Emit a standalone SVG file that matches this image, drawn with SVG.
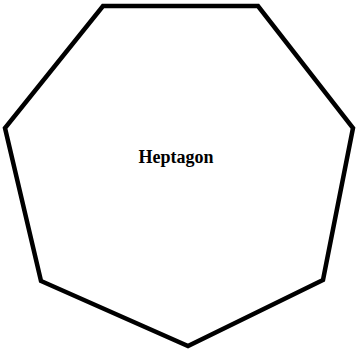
<svg xmlns="http://www.w3.org/2000/svg" width="358" height="353" viewBox="0 0 358 353">
<style>
.shape{fill:#fff;stroke:#000;stroke-width:4.5;stroke-linejoin:miter}
.label{font-family:"Liberation Serif",serif;font-weight:bold;font-size:18px;fill:#000;text-anchor:middle}
</style>
<rect width="358" height="353" fill="#fff"/>
<g id="heptagon">
<polygon class="shape" points="103,6 258,6 353,128 323,280 188,346 41,281 5,128"/>
<text class="label" x="176" y="163">Heptagon</text>
</g>
<g id="connectors"/>
</svg>
